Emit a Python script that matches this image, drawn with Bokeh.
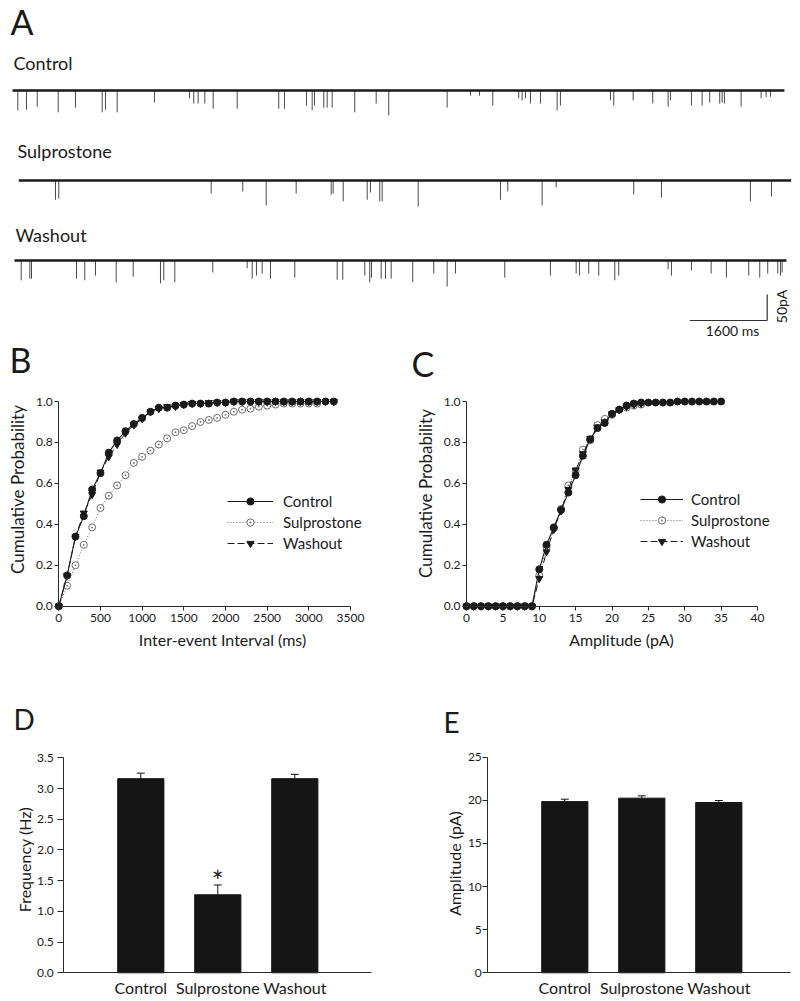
import math
from bokeh.plotting import figure
from bokeh.models import (Range1d, Label, Legend, LegendItem, FixedTicker,
                          PrintfTickFormatter, Whisker, TeeHead, ColumnDataSource)
from bokeh.layouts import column, row
from bokeh.embed import file_html
from bokeh.resources import INLINE

FONT = "Lato"
INK = "#1a1a1a"

# ------------------------------------------------------------------ data
# Panel A: example recordings (event times in ms, event amplitudes in pA)
conditions = ["Control", "Sulprostone", "Washout"]
trace_start_ms = [0, 130, 41]
trace_end_ms = [15957, 16096, 15999]

control_event_ms = [110, 289, 511, 945, 1302, 1854, 1922, 2164, 2935, 3659, 3747, 3838,
                    3975, 4148, 4645, 5504, 5622, 6077, 6195, 6242, 6435, 6505, 6608, 7075,
                    7518, 7778, 8985, 9467, 9653, 9928, 10465, 10535, 10604, 10707, 10914,
                    11259, 11327, 12361, 12429, 12830, 13235, 13553, 13601, 14035, 14256,
                    14413, 14620, 14670, 14717, 15062, 15476, 15579, 15668]
control_event_pA = [38, 37, 31, 42, 33, 42, 37, 42, 23, 15, 25, 25, 25, 35, 35, 35, 35, 29,
                    38, 29, 33, 33, 33, 42, 25, 48, 33, 10, 10, 29, 15, 19, 15, 25, 25, 38,
                    29, 19, 29, 19, 25, 31, 19, 29, 29, 23, 25, 23, 25, 31, 15, 13, 12]

sulpro_event_ms = [889, 957, 4107, 4760, 5244, 5864, 6588, 6629, 6836, 7332, 7400, 7592,
                   7642, 8386, 10087, 10238, 10949, 11238, 12842, 13415, 15254, 15689]
sulpro_event_pA = [37, 35, 25, 21, 48, 25, 27, 25, 40, 37, 23, 40, 40, 50, 37, 21, 48, 13,
                   27, 33, 40, 31]

washout_event_ms = [180, 358, 393, 1323, 1494, 1716, 2143, 2495, 3059, 3127, 3355, 4140,
                    4851, 4955, 5043, 5161, 5333, 5835, 6712, 6827, 7282, 7385, 7421, 7621,
                    7710, 7828, 8274, 8708, 8985, 9157, 10176, 11120, 11652, 11720, 11912,
                    12119, 12450, 12532, 13553, 13622, 14035, 14442, 14758, 15219, 15447,
                    15612, 15819, 15875, 15910]
washout_event_pA = [38, 35, 35, 35, 38, 29, 42, 31, 44, 38, 42, 23, 15, 35, 29, 25, 35, 33,
                    37, 37, 29, 42, 33, 35, 35, 35, 42, 25, 50, 25, 33, 29, 25, 29, 25, 29,
                    38, 29, 17, 29, 19, 25, 33, 29, 33, 25, 25, 29, 23]

scale_time_ms = 1600
scale_amp_pA = 50

# Panel B: cumulative probability of inter-event interval (ms)
iei_ms = [0, 100, 200, 300, 400, 500, 600, 700, 800, 900, 1000, 1100, 1200, 1300, 1400,
          1500, 1600, 1700, 1800, 1900, 2000, 2100, 2200, 2300, 2400, 2500, 2600, 2700,
          2800, 2900, 3000, 3100, 3200, 3300]
iei_control = [0.0, 0.15, 0.34, 0.44, 0.57, 0.65, 0.75, 0.81, 0.855, 0.89, 0.92, 0.95,
               0.97, 0.97, 0.98, 0.985, 0.99, 0.99, 0.99, 0.995, 0.995, 1.0, 1.0, 1.0, 1.0,
               1.0, 1.0, 1.0, 1.0, 1.0, 1.0, 1.0, 1.0, 1.0]
iei_sulpro = [0.0, 0.10, 0.20, 0.30, 0.385, 0.48, 0.54, 0.59, 0.64, 0.70, 0.73, 0.76,
              0.79, 0.82, 0.85, 0.86, 0.88, 0.90, 0.91, 0.92, 0.935, 0.95, 0.96, 0.965,
              0.975, 0.98, 0.985, 0.99, 0.99, 0.99, 0.99, 0.99]
iei_washout = [0.0, 0.15, 0.34, 0.455, 0.545, 0.655, 0.73, 0.79, 0.845, 0.885, 0.915, 0.95,
               0.965, 0.975, 0.975, 0.985, 0.99, 0.99, 0.995, 0.995, 0.995, 1.0, 1.0, 1.0,
               1.0, 1.0, 1.0, 1.0, 1.0, 1.0, 1.0, 1.0, 1.0, 1.0]

# Panel C: cumulative probability of amplitude (pA)
amp_bins = [0, 1, 2, 3, 4, 5, 6, 7, 8, 9, 10, 11, 12, 13, 14, 15, 16, 17, 18, 19, 20, 21,
            22, 23, 24, 25, 26, 27, 28, 29, 30, 31, 32, 33, 34, 35]
amp_control = [0, 0, 0, 0, 0, 0, 0, 0, 0, 0, 0.18, 0.30, 0.385, 0.47, 0.555, 0.64, 0.735,
               0.815, 0.87, 0.895, 0.94, 0.96, 0.98, 0.99, 0.995, 0.995, 0.995, 0.995,
               0.995, 1.0, 1.0, 1.0, 1.0, 1.0, 1.0, 1.0]
amp_sulpro = [0, 0, 0, 0, 0, 0, 0, 0, 0, 0, 0.15, 0.29, 0.38, 0.475, 0.59, 0.66, 0.765,
              0.81, 0.885, 0.915, 0.935, 0.96, 0.97, 0.98, 0.985]
amp_washout = [0, 0, 0, 0, 0, 0, 0, 0, 0, 0, 0.135, 0.265, 0.375, 0.465, 0.57, 0.665,
               0.745, 0.82, 0.875, 0.90, 0.94, 0.96, 0.975, 0.985, 0.99]

# Panels D/E: means and SEM
bar_pos = [1, 2, 3]
freq_mean = [3.16, 1.27, 3.16]
freq_sem = [0.09, 0.16, 0.07]
amp_mean = [19.85, 20.25, 19.75]
amp_sem = [0.28, 0.27, 0.23]

# ------------------------------------------------------------------ layout geometry (page px)
# box = (left, top, width, height); maps = (data0, page0, data1, page1)
GA = dict(box=(0, 0, 800, 339), xm=(0, 12, 1600, 89.4), ym=(0, 90, 50, 64))
GB = dict(box=(0, 339, 400, 340), xm=(0, 58.3, 3500, 350), ym=(0, 605.7, 1, 401))
GC = dict(box=(400, 339, 400, 340), xm=(0, 466, 40, 757), ym=(0, 605.7, 1, 401))
GD = dict(box=(0, 679, 400, 321), xm=(0, 63.3, 4, 371.3), ym=(0, 972.3, 3.5, 757.3))
GE = dict(box=(400, 679, 400, 321), xm=(0, 487.3, 4, 795.3), ym=(0, 972.3, 25, 756.7))

MID = 0.42  # offset of the label anchor above the baseline, in em


def to_data(g, px, py):
    xd0, xp0, xd1, xp1 = g["xm"]
    yd0, yp0, yd1, yp1 = g["ym"]
    return (xd0 + (px - xp0) * (xd1 - xd0) / (xp1 - xp0),
            yd0 + (py - yp0) * (yd1 - yd0) / (yp1 - yp0))


def make_fig(g, **kw):
    pl, pt, pw, ph = g["box"]
    x0, y1 = to_data(g, pl, pt)
    x1, y0 = to_data(g, pl + pw, pt + ph)
    p = figure(width=pw, height=ph, x_range=Range1d(x0, x1), y_range=Range1d(y0, y1),
               min_border=0, toolbar_location=None, output_backend="svg", title=None,
               **kw)
    p.outline_line_color = None
    p.grid.visible = False
    p.background_fill_color = "white"
    p.border_fill_color = "white"
    return p


def text(p, g, px, py, s, size, align="left", rotated=False):
    """px/py: left (or centre) and baseline (or centre when rotated) in page px."""
    if rotated:
        x, y = to_data(g, px, py)
        angle = math.pi / 2
    else:
        x, y = to_data(g, px, py - MID * size)
        angle = 0.0
    p.add_layout(Label(x=x, y=y, text=s, text_font=FONT, text_font_size=f"{size}px",
                       text_align=align, text_baseline="middle", angle=angle,
                       text_color=INK))


def style_axis(ax, tick_out, standoff, size="12px"):
    ax.fixed_location = 0
    ax.axis_line_color = "#2a2a2a"
    ax.axis_line_width = 1
    ax.major_tick_line_color = "#2a2a2a"
    ax.major_tick_in = 0
    ax.major_tick_out = tick_out
    ax.minor_tick_line_color = None
    ax.major_label_text_font = FONT
    ax.major_label_text_font_size = size
    ax.major_label_text_color = INK
    ax.major_label_standoff = standoff


# ------------------------------------------------------------------ Panel A
pA = make_fig(GA, x_axis_type=None, y_axis_type=None)
baseline_py = [90, 180, 260]
events = [(control_event_ms, control_event_pA), (sulpro_event_ms, sulpro_event_pA),
          (washout_event_ms, washout_event_pA)]
label_pos = [(13, 70), (17, 158), (15, 242)]
for i, name in enumerate(conditions):
    off = to_data(GA, 0, baseline_py[i])[1]
    ev_t, ev_a = events[i]
    pA.segment(x0=ev_t, y0=[off] * len(ev_t), x1=ev_t, y1=[off - a for a in ev_a],
               line_color="#4a4a4a", line_width=1)
    pA.line(x=[trace_start_ms[i], trace_end_ms[i]], y=[off, off], line_color=INK,
            line_width=2.6)
    text(pA, GA, label_pos[i][0], label_pos[i][1], name, 18)
text(pA, GA, 10, 35, "A", 34)
sb_t0, sb_y = to_data(GA, 689.3, 320)
pA.segment(x0=[sb_t0, sb_t0 + scale_time_ms], y0=[sb_y, sb_y],
           x1=[sb_t0 + scale_time_ms, sb_t0 + scale_time_ms], y1=[sb_y, sb_y + scale_amp_pA],
           line_color="#333333", line_width=1.2)
text(pA, GA, 732, 336, f"{scale_time_ms} ms", 14, align="center")
text(pA, GA, 781, 306, f"{scale_amp_pA}pA", 14, align="center", rotated=True)


# ------------------------------------------------------------------ cumulative panels
def cumulative(g, series, xticks, xbounds, legend_loc, glyph_w, standoff_lbl,
               letter, letter_pos, xtitle, xtitle_pos, ytitle_pos):
    p = make_fig(g)
    p.xaxis.bounds = xbounds
    p.yaxis.bounds = (0, 1)
    p.xaxis.ticker = FixedTicker(ticks=xticks)
    p.yaxis.ticker = FixedTicker(ticks=[0, 0.2, 0.4, 0.6, 0.8, 1.0])
    p.yaxis.formatter = PrintfTickFormatter(format="%.1f")
    style_axis(p.xaxis[0], 4, 4)
    style_axis(p.yaxis[0], 4, 2)

    (xc, yc), (xs, ys), (xw, yw) = series
    rs_l = p.line(xs, ys, line_color="#6a6a6a", line_width=1, line_dash="1 2")
    rs_m = p.scatter(xs, ys, marker="circle_dot", size=7, fill_color="white",
                     line_color="#6a6a6a", line_width=1)
    rw_l = p.line(xw, yw, line_color=INK, line_width=1, line_dash="7 3")
    rw_m = p.scatter(xw, yw, marker="inverted_triangle", size=7, fill_color=INK,
                     line_color=INK)
    rc_l = p.line(xc, yc, line_color=INK, line_width=1.1)
    rc_m = p.scatter(xc, yc, marker="circle", size=7, fill_color=INK, line_color=INK)

    leg = Legend(items=[LegendItem(label=conditions[0], renderers=[rc_l, rc_m]),
                        LegendItem(label=conditions[1], renderers=[rs_l, rs_m]),
                        LegendItem(label=conditions[2], renderers=[rw_l, rw_m])],
                 location=legend_loc, glyph_width=glyph_w, glyph_height=18,
                 label_height=18, spacing=3, padding=0, margin=0,
                 label_standoff=standoff_lbl, border_line_color=None,
                 background_fill_alpha=0, label_text_font=FONT,
                 label_text_font_size="15px", label_text_color=INK)
    p.add_layout(leg)

    text(p, g, letter_pos[0], letter_pos[1], letter, 34)
    text(p, g, xtitle_pos[0], xtitle_pos[1], xtitle, 16, align="center")
    text(p, g, ytitle_pos[0], ytitle_pos[1], "Cumulative Probability", 17, align="center",
         rotated=True)
    return p


pB = cumulative(GB, [(iei_ms, iei_control), (iei_ms[:len(iei_sulpro)], iei_sulpro),
                     (iei_ms, iei_washout)],
                [0, 500, 1000, 1500, 2000, 2500, 3000, 3500], (0, 3500),
                (227, 127), 46, 10, "B", (9, 373), "Inter-event Interval (ms)", (222, 646),
                (17, 489))
pC = cumulative(GC, [(amp_bins, amp_control), (amp_bins[:len(amp_sulpro)], amp_sulpro),
                     (amp_bins[:len(amp_washout)], amp_washout)],
                [0, 5, 10, 15, 20, 25, 30, 35, 40], (0, 40),
                (240, 129), 43, 8, "C", (411, 377), "Amplitude (pA)", (621, 646),
                (425, 493))


# ------------------------------------------------------------------ bar panels
def bars(g, means, sems, yticks, fmt, xmax, ytitle, ytitle_pos, tick_out, lab_standoff,
         letter, letter_pos):
    p = make_fig(g)
    p.vbar(x=bar_pos, top=means, width=0.6, fill_color="#151515", line_color="#151515")
    src = ColumnDataSource(dict(x=bar_pos, base=means,
                                upper=[m + s for m, s in zip(means, sems)]))
    p.add_layout(Whisker(source=src, base="x", lower="base", upper="upper",
                         dimension="height", line_color="#151515", line_width=1,
                         upper_head=TeeHead(size=8, line_color="#151515", line_width=1),
                         lower_head=None))
    p.xaxis.bounds = (0, xmax)
    p.yaxis.bounds = (yticks[0], yticks[-1])
    p.xaxis.ticker = FixedTicker(ticks=bar_pos)
    p.xaxis.major_label_overrides = {bar_pos[i]: conditions[i] for i in range(3)}
    style_axis(p.xaxis[0], 0, 5, size="16px")
    p.xaxis.major_tick_line_color = None
    p.yaxis.ticker = FixedTicker(ticks=yticks)
    p.yaxis.formatter = PrintfTickFormatter(format=fmt)
    style_axis(p.yaxis[0], tick_out, lab_standoff)
    text(p, g, ytitle_pos[0], ytitle_pos[1], ytitle, 16, align="center", rotated=True)
    text(p, g, letter_pos[0], letter_pos[1], letter, 28)
    return p


pD = bars(GD, freq_mean, freq_sem, [0, 0.5, 1.0, 1.5, 2.0, 2.5, 3.0, 3.5], "%.1f", 4,
          "Frequency (Hz)", (24, 859), 6, 4, "D", (13, 730))
pD.add_layout(Label(x=bar_pos[1], y=freq_mean[1] + freq_sem[1], y_offset=4, text="*",
                    text_font=FONT, text_font_size="28px", text_align="center",
                    text_baseline="middle", text_color=INK))
pE = bars(GE, amp_mean, amp_sem, [0, 5, 10, 15, 20, 25], "%d", 3.935,
          "Amplitude (pA)", (454, 863), 5, 1, "E", (443, 733))

layout = column(pA, row(pB, pC, spacing=0), row(pD, pE, spacing=0), spacing=0)
open("out.html", "w").write(file_html(layout, INLINE))
